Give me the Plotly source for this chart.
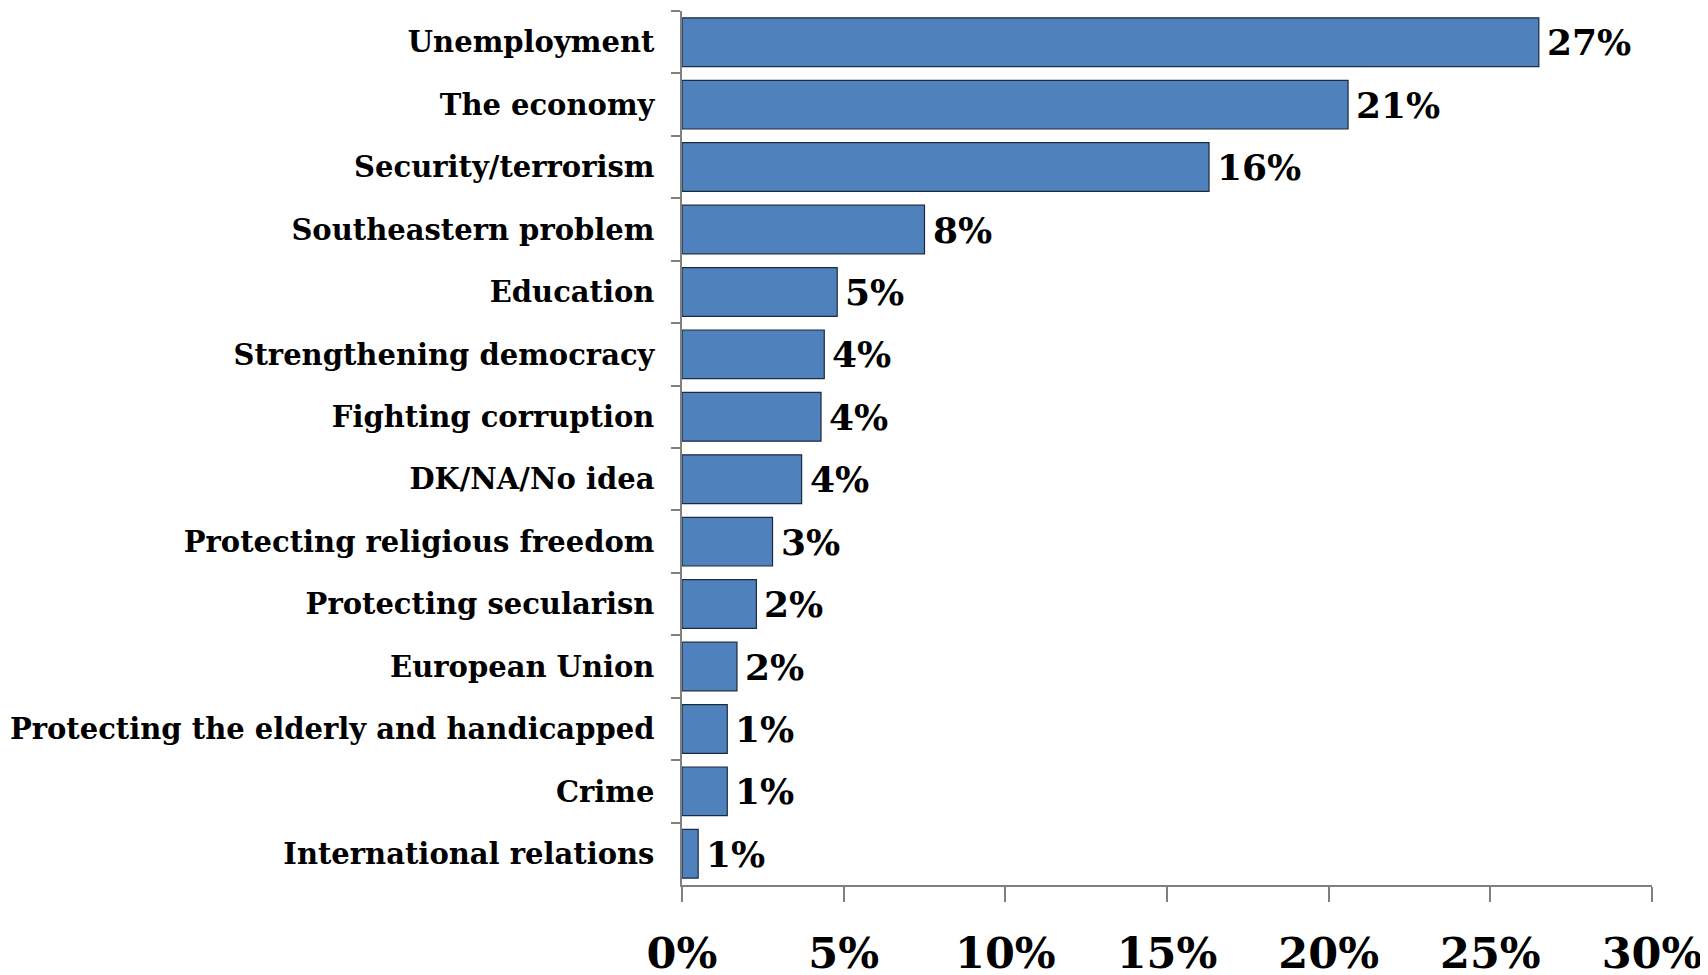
import plotly.graph_objects as go

categories = ["Unemployment", "The economy", "Security/terrorism", "Southeastern problem",
              "Education", "Strengthening democracy", "Fighting corruption", "DK/NA/No idea",
              "Protecting religious freedom", "Protecting secularisn", "European Union",
              "Protecting the elderly and handicapped", "Crime", "International relations"]
values = [26.5, 20.6, 16.3, 7.5, 4.8, 4.4, 4.3, 3.7, 2.8, 2.3, 1.7, 1.4, 1.4, 0.5]
value_labels = ["27%", "21%", "16%", "8%", "5%", "4%", "4%", "4%", "3%", "2%", "2%", "1%", "1%", "1%"]
x_tickvals = [0, 5, 10, 15, 20, 25, 30]
x_ticktext = ["0%", "5%", "10%", "15%", "20%", "25%", "30%"]

FONT = "DejaVu Serif"

fig = go.Figure()
fig.add_trace(go.Bar(
    x=values, y=categories, orientation="h",
    marker=dict(color="#4F81BD", line=dict(color="#1c2a40", width=1.2)),
    width=0.78,
))

for v, c, t in zip(values, categories, value_labels):
    fig.add_annotation(
        x=v, y=c, text=t, showarrow=False, xanchor="left", yanchor="middle",
        xshift=6, font=dict(family=FONT, size=36, color="black", weight="bold"),
    )

fig.update_layout(
    width=1708, height=975,
    margin=dict(l=674, r=64, t=3, b=98, autoexpand=False),
    paper_bgcolor="white", plot_bgcolor="white",
    showlegend=False,
    font=dict(family=FONT, color="black"),
)
fig.update_xaxes(
    range=[0, 30], tickvals=x_tickvals, ticktext=x_ticktext,
    showgrid=False, zeroline=False, automargin=False,
    showline=True, linecolor="#808080", linewidth=1.5,
    ticks="outside", ticklen=15, tickcolor="#808080", tickwidth=1.5,
    tickfont=dict(family=FONT, size=43, color="black", weight="bold"),
    ticklabelstandoff=15,
)
fig.update_yaxes(
    categoryorder="array", categoryarray=categories, autorange="reversed",
    showgrid=False, zeroline=False, automargin=False,
    showline=True, linecolor="#808080", linewidth=1.5,
    ticks="outside", ticklen=9, tickcolor="#808080", tickwidth=1.5,
    tickson="boundaries",
    tickfont=dict(family=FONT, size=29, color="black", weight="bold"),
    ticklabelstandoff=20,
)

fig.write_html("out.html")
